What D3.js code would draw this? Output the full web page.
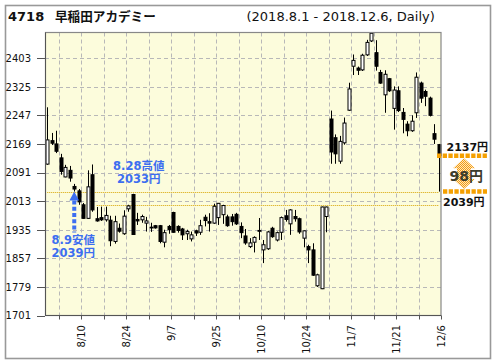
<!DOCTYPE html>
<html><head><meta charset="utf-8">
<script src="https://cdn.jsdelivr.net/npm/d3@7"></script>
<style>html,body{margin:0;padding:0;background:#fff;}svg{display:block;}</style>
</head><body>
<svg id="c" width="496" height="364"></svg>
<script>
// ---------------- data ----------------
const dates = [
 "8/1","8/2","8/3","8/6","8/7","8/8","8/9","8/10","8/13","8/14","8/15","8/16","8/17","8/20","8/21","8/22","8/23","8/24","8/27","8/28","8/29","8/30","8/31",
 "9/3","9/4","9/5","9/6","9/7","9/10","9/11","9/12","9/13","9/14","9/18","9/19","9/20","9/21","9/25","9/26","9/27","9/28",
 "10/1","10/2","10/3","10/4","10/5","10/9","10/10","10/11","10/12","10/15","10/16","10/17","10/18","10/19","10/22","10/23","10/24","10/25","10/26","10/29","10/30","10/31",
 "11/1","11/2","11/5","11/6","11/7","11/8","11/9","11/12","11/13","11/14","11/15","11/16","11/19","11/20","11/21","11/22","11/26","11/27","11/28","11/29","11/30",
 "12/3","12/4","12/5","12/6"];
const open  = [2114,2178,2169,2131,2079,2097,2053,2041,2003,1966,2085,1965,1968,1962,1961,1903,1939,1924,1992,2031,1963,1962,1953,
 1942,1946,1946,1901,1944,1982,1944,1937,1924,1910,1932,1928,1969,1957,1953,1968,1976,1970,
 1970,1977,1944,1918,1889,1901,1933,1880,1883,1939,1907,1928,1973,1951,1971,1965,1912,1889,1880,1782,1774,1971,
 2237,2186,2122,2172,2261,2381,2376,2371,2412,2450,2418,2364,2303,2347,2266,2314,2255,2223,2205,2254,2335,2312,2294,2197,2167];
const high  = [2269,2199,2205,2142,2112,2109,2060,2046,2008,2097,2113,1997,1998,1998,1973,1973,1952,1988,2003,2033,1981,1976,1970,
 1954,1948,1948,1935,1948,1984,1947,1940,1935,1930,1935,1962,1976,1980,2006,2008,2003,1976,
 1978,1981,1955,1937,1912,1917,1967,1907,1932,1943,1930,1971,1989,1991,1989,1968,1933,1894,1898,1815,1998,1998,
 2260,2195,2191,2241,2336,2413,2380,2415,2453,2474,2452,2371,2370,2349,2326,2326,2267,2231,2247,2364,2339,2317,2298,2223,2169];
const low   = [2112,2166,2144,2085,2078,2066,2039,2003,1965,1965,1984,1957,1959,1957,1890,1897,1927,1921,1984,1921,1948,1954,1930,
 1929,1938,1898,1887,1924,1927,1927,1907,1907,1903,1918,1921,1944,1930,1951,1948,1951,1943,
 1946,1948,1912,1894,1885,1873,1907,1844,1880,1913,1903,1907,1957,1921,1957,1924,1887,1844,1809,1779,1773,1928,
 2115,2115,2115,2167,2259,2357,2357,2368,2409,2447,2369,2333,2254,2311,2208,2256,2198,2190,2202,2240,2281,2272,2244,2169,2039];
const close = [2180,2171,2149,2094,2105,2076,2046,2011,1966,2052,1989,1959,1962,1974,1905,1957,1931,1972,2000,1922,1959,1971,1959,
 1940,1940,1903,1927,1935,1928,1933,1921,1930,1921,1926,1946,1960,1953,1999,2007,2001,1946,
 1957,1951,1927,1899,1899,1914,1931,1894,1929,1916,1927,1968,1963,1989,1965,1929,1932,1880,1811,1812,1997,1997,
 2147,2142,2176,2226,2319,2397,2370,2411,2446,2471,2381,2335,2359,2314,2316,2260,2236,2205,2231,2351,2294,2299,2247,2182,2137];
const yTicks = [1701,1779,1857,1935,2013,2091,2169,2247,2325,2403];
const xLabels = ["8/10","8/24","9/7","9/25","10/10","10/24","11/7","11/21","12/6"];
const levelLines = [{v:2039, from:"8/1"}, {v:2002, from:"8/16"}];
const lowNote  = {date:"8/9",  value:2039, lines:["8.9安値","2039円"]};
const highNote = {date:"8/28", value:2033, lines:["8.28高値","2033円"]};
const lastClose = 2137, gapLevel = 2039;
const titleCode = "4718", titleName = "早稲田アカデミー";
const subtitle = "(2018.8.1 - 2018.12.6, Daily)";

// ---------------- chart ----------------
const svg = d3.select("#c");
const L = 45, R = 441, T = 32.5, B = 315.5;
const x = d3.scaleBand().domain(dates).range([L, R]).padding(0);
const y = d3.scaleLinear().domain([1701, 2473]).range([B, T]);
const bw = x.bandwidth();
const cx = d => x(d) + bw / 2;
const LAT = "'DejaVu Sans','Noto Sans CJK JP',sans-serif";

const defs = svg.append("defs");
const pat = defs.append("pattern").attr("id","hatch").attr("width",2).attr("height",2)
  .attr("patternUnits","userSpaceOnUse");
pat.append("rect").attr("width",2).attr("height",2).attr("fill","#fde6bd");
pat.append("rect").attr("width",1).attr("height",1).attr("fill","#f39c12");
pat.append("rect").attr("x",1).attr("y",1).attr("width",1).attr("height",1).attr("fill","#f39c12");

// outer frame
svg.append("rect").attr("x",5.5).attr("y",5.5).attr("width",485).attr("height",353)
  .attr("fill","#fff").attr("stroke","#999").attr("stroke-width",1.6);

// titles
svg.append("text").attr("x",8).attr("y",20.5).attr("font-family",LAT).attr("font-weight","bold")
  .attr("font-size",13).attr("fill","#111").text(titleCode);
svg.append("text").attr("x",55).attr("y",20.5).attr("font-family","'Noto Sans CJK JP',sans-serif").attr("font-weight","bold")
  .attr("font-size",12.6).attr("fill","#111").text(titleName);
svg.append("text").attr("x",246.5).attr("y",21).attr("font-family",LAT)
  .attr("font-size",13).attr("fill","#111").text(subtitle);

// plot background
svg.append("rect").attr("x",L).attr("y",T).attr("width",R-L).attr("height",B-T).attr("fill","#fcfcdc");

// grid
const grid = svg.append("g").attr("stroke","#b8b8b8").attr("stroke-width",1).attr("stroke-dasharray","4,3");
grid.selectAll("line.h").data(yTicks.slice(1)).join("line")
  .attr("x1",L).attr("x2",R).attr("y1",d=>Math.round(y(d))+0.5).attr("y2",d=>Math.round(y(d))+0.5);
const gridDates = dates.filter((d,i)=> i % 5 === 2 && i < dates.length-1);
grid.selectAll("line.v").data(gridDates).join("line")
  .attr("x1",d=>Math.round(x(d)+bw)+0.5).attr("x2",d=>Math.round(x(d)+bw)+0.5).attr("y1",T).attr("y2",B);

// level dotted lines
svg.append("g").selectAll("line").data(levelLines).join("line")
  .attr("x1",d=>x(d.from)+bw/2).attr("x2",R-2)
  .attr("y1",d=>Math.round(y(d.v))+0.5).attr("y2",d=>Math.round(y(d.v))+0.5)
  .attr("stroke","#d9a400").attr("stroke-width",1).attr("stroke-dasharray","1,1");

// candles
const idx = d3.range(dates.length);
const cg = svg.append("g");
cg.selectAll("line").data(idx).join("line")
  .attr("x1",i=>Math.round(cx(dates[i]))+0.5).attr("x2",i=>Math.round(cx(dates[i]))+0.5)
  .attr("y1",i=>y(high[i])).attr("y2",i=>y(low[i]))
  .attr("stroke","#000").attr("stroke-width",1);
cg.selectAll("rect").data(idx).join("rect")
  .attr("x",i=>Math.round(cx(dates[i]))-1)
  .attr("width",3)
  .attr("y",i=>y(Math.max(open[i],close[i])))
  .attr("height",i=>Math.max(0.8, Math.abs(y(open[i])-y(close[i]))))
  .attr("fill",i=> close[i] >= open[i] ? "#fff" : "#000")
  .attr("stroke","#000").attr("stroke-width",1);

// plot frame
svg.append("rect").attr("x",L+0.5).attr("y",T).attr("width",R-L-0.5).attr("height",B-T)
  .attr("fill","none").attr("stroke","#888").attr("stroke-width",1.2);
svg.append("line").attr("x1",L+0.5).attr("x2",L+0.5).attr("y1",T).attr("y2",B).attr("stroke","#555");
svg.append("line").attr("x1",L).attr("x2",R).attr("y1",B).attr("y2",B).attr("stroke","#555");

// y axis
const yAxis = svg.append("g");
yAxis.selectAll("line").data(yTicks).join("line")
  .attr("x1",37).attr("x2",L).attr("y1",d=>Math.round(y(d))+0.5).attr("y2",d=>Math.round(y(d))+0.5)
  .attr("stroke","#555");
yAxis.selectAll("text").data(yTicks).join("text")
  .attr("x",31).attr("y",d=>y(d)+3.8).attr("text-anchor","end")
  .attr("font-family",LAT).attr("font-size",10).attr("fill","#111").text(d=>d);

// x axis ticks + labels
const xAxis = svg.append("g");
xAxis.selectAll("line").data(dates.filter((d,i)=> i % 5 === 2)).join("line")
  .attr("x1",d=>Math.round(x(d)+bw)+0.5).attr("x2",d=>Math.round(x(d)+bw)+0.5)
  .attr("y1",B).attr("y2",B+4).attr("stroke","#555");
xAxis.selectAll("text").data(xLabels).join("text")
  .attr("transform",d=>`translate(${x(d)+bw+3.5},325) rotate(-90)`)
  .attr("text-anchor","end")
  .attr("font-family",LAT).attr("font-size",10).attr("fill","#111").text(d=>d);

// blue annotations
const blue = "#3d6ef0";
const ax = cx(lowNote.date);
svg.append("line").attr("x1",ax).attr("x2",ax).attr("y1",y(lowNote.value)+9).attr("y2",y(lowNote.value)+41)
  .attr("stroke",blue).attr("stroke-width",4).attr("stroke-dasharray","4,2.2");
svg.append("path")
  .attr("d",`M${ax},${y(lowNote.value)} L${ax+4.8},${y(lowNote.value)+9} L${ax-4.8},${y(lowNote.value)+9} Z`)
  .attr("fill",blue);
svg.selectAll("text.low").data(lowNote.lines).join("text")
  .attr("x",ax-1).attr("y",(d,i)=>y(lowNote.value)+52+i*13).attr("text-anchor","middle")
  .attr("font-family",LAT).attr("font-weight","bold").attr("font-size",11.5).attr("fill",blue).text(d=>d);
const hx = cx(highNote.date)+6;
svg.selectAll("text.high").data(highNote.lines).join("text")
  .attr("x",hx).attr("y",(d,i)=>y(highNote.value)-23.5+i*13).attr("text-anchor","middle")
  .attr("font-family",LAT).attr("font-weight","bold").attr("font-size",11.5).attr("fill",blue).text(d=>d);

// right side annotation
const orange = "#f5a000";
svg.append("line").attr("x1",437).attr("x2",487).attr("y1",y(lastClose)).attr("y2",y(lastClose))
  .attr("stroke",orange).attr("stroke-width",4.5).attr("stroke-dasharray","4.3,1.4");
svg.append("line").attr("x1",443).attr("x2",487).attr("y1",y(gapLevel)).attr("y2",y(gapLevel))
  .attr("stroke",orange).attr("stroke-width",4.5).attr("stroke-dasharray","4.3,1.4");
const yt = y(lastClose)+2.5, yb = y(gapLevel)-2.5, am = 464;
svg.append("path")
  .attr("d",`M${am},${yt} L${am+11},${yt+10} L${am+7},${yt+10} L${am+7},${yb-10} L${am+11},${yb-10} L${am},${yb} L${am-11},${yb-10} L${am-7},${yb-10} L${am-7},${yt+10} L${am-11},${yt+10} Z`)
  .attr("fill","url(#hatch)");
svg.append("text").attr("x",446.5).attr("y",y(lastClose)-4.5)
  .attr("font-family",LAT).attr("font-weight","bold").attr("font-size",11).attr("fill","#111").text(lastClose+"円");
svg.append("text").attr("x",449.5).attr("y",(y(lastClose)+y(gapLevel))/2+7)
  .attr("font-family",LAT).attr("font-weight","bold").attr("font-size",14).attr("fill","#3c3c2c").text((lastClose-gapLevel)+"円");
svg.append("text").attr("x",443).attr("y",y(gapLevel)+14.5)
  .attr("font-family",LAT).attr("font-weight","bold").attr("font-size",11).attr("fill","#111").text(gapLevel+"円");
</script>
</body></html>
